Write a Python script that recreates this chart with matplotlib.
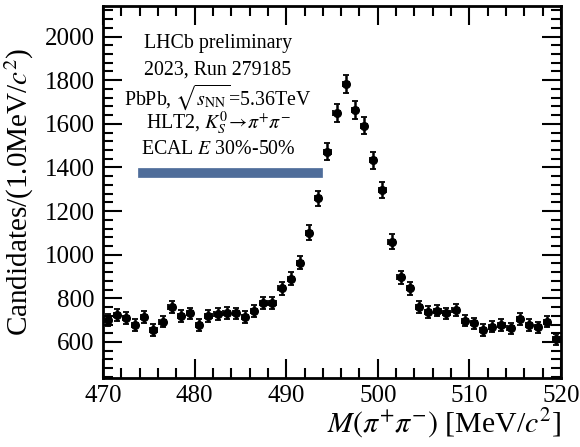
import numpy as np
import matplotlib.pyplot as plt
from matplotlib.ticker import MultipleLocator

plt.rcParams['font.family'] = ['Liberation Serif', 'DejaVu Serif']
plt.rcParams['mathtext.fontset'] = 'stix'

# bin centres of M(pi+ pi-) [MeV/c^2], 1 MeV bins
mass = np.arange(470.5, 520.0, 1.0)
counts = [701, 724, 710, 678, 716, 655, 693, 762, 719, 731,
          678, 719, 728, 734, 731, 713, 742, 780, 777, 846,
          889, 964, 1101, 1259, 1473, 1649, 1783, 1664, 1591, 1432,
          1297, 1060, 897, 846, 762, 739, 744, 731, 747, 698,
          686, 655, 670, 678, 663, 704, 678, 667, 693, 612]
errors = [26, 27, 27, 26, 27, 26, 26, 28, 27, 27,
          26, 27, 27, 27, 27, 27, 27, 28, 28, 29,
          30, 31, 33, 35, 38, 41, 42, 41, 40, 38,
          36, 33, 30, 29, 28, 27, 27, 27, 27, 26,
          26, 26, 26, 26, 26, 27, 26, 26, 26, 25]

info_lines = ["LHCb preliminary",
              "2023, Run 279185",
              r"PbPb, $\sqrt{s_{\mathrm{NN}}}$=5.36TeV",
              r"HLT2, $K^0_S\!\rightarrow\!\pi^{+}\pi^{-}$",
              r"ECAL $E$ 30%-50%"]

fig = plt.figure(figsize=(5.8, 4.47), dpi=100)
ax = fig.add_axes([0.1776, 0.1544, 0.7896, 0.8322])

ax.errorbar(mass, counts, yerr=errors, xerr=0.35, fmt='o', color='black',
            markersize=5.5, elinewidth=1.8, capsize=2, capthick=1.3)

ax.set_xlim(470, 520)
ax.set_ylim(435, 2140)

ax.xaxis.set_major_locator(MultipleLocator(10))
ax.xaxis.set_minor_locator(MultipleLocator(2))
ax.yaxis.set_major_locator(MultipleLocator(200))
ax.yaxis.set_minor_locator(MultipleLocator(40))
ax.tick_params(which='both', direction='in', top=True, right=True,
               labelsize=18, width=1.5)
ax.tick_params(which='major', length=14)
ax.tick_params(axis='y', which='major', pad=6)
ax.tick_params(axis='x', which='major', pad=5)
ax.tick_params(which='minor', length=7)
for s in ax.spines.values():
    s.set_linewidth(2)

ax.set_ylabel(r"Candidates/(1.0MeV/$c^2$)", fontsize=21, labelpad=6)
ax.set_xlabel(r"$M(\pi^{+}\pi^{-})$ [MeV/$c^2$]", fontsize=21.5, loc='right',
              labelpad=0)

ys = [0.90, 0.828, 0.755, 0.685, 0.613]
for line, y in zip(info_lines, ys):
    ax.text(0.251, y, line, transform=ax.transAxes, ha='center',
            va='center', fontsize=14.3)

ax.axhline(1375, xmin=0.087, xmax=0.469, color='#4f6d9a', linewidth=7)

fig.savefig("out.png", dpi=100)
